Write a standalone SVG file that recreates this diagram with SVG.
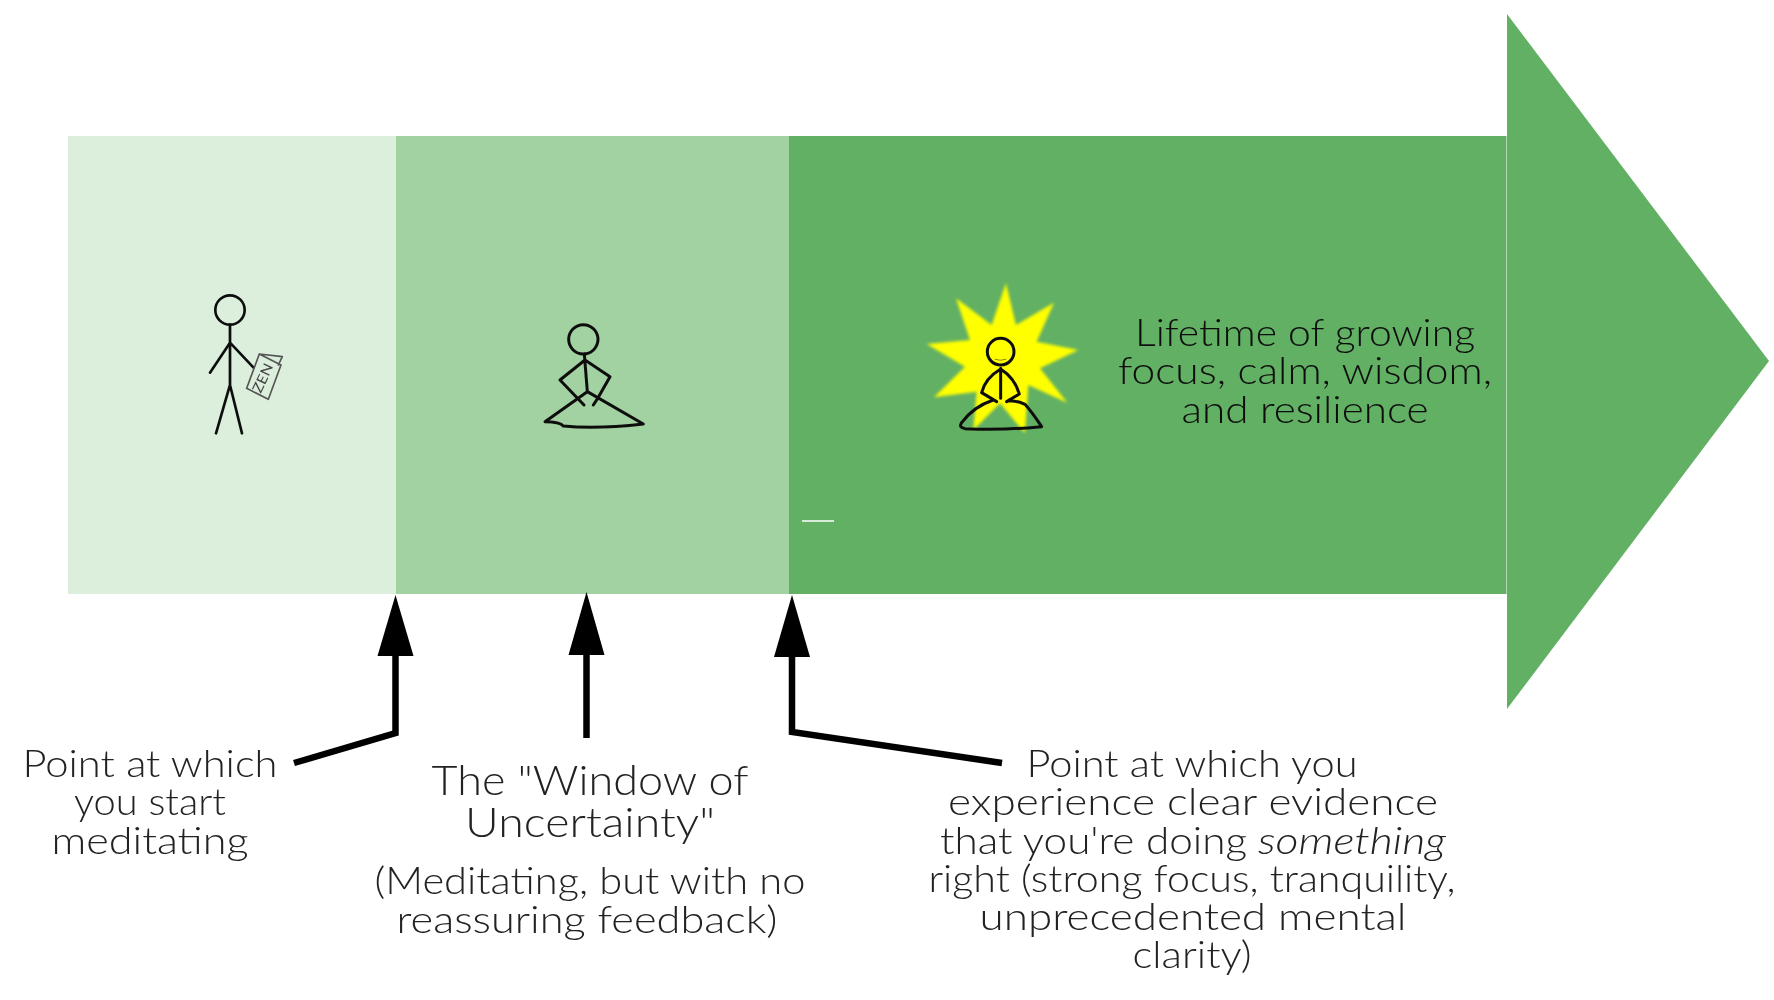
<svg xmlns="http://www.w3.org/2000/svg" width="1774" height="1000" viewBox="0 0 1774 1000">
<style>
text{font-family:"Lato","Liberation Sans",sans-serif;font-weight:300;fill:#222;text-anchor:middle}
.s{font-size:37px}
.b{font-size:42px}
.l{text-anchor:start}
.fig{fill:none;stroke:#111;stroke-linecap:round;stroke-linejoin:round}
.conn{fill:none;stroke:#000;stroke-width:6.5;stroke-linejoin:miter}
</style>
<defs><filter id="soft" x="-10%" y="-10%" width="120%" height="120%"><feGaussianBlur stdDeviation="5"/></filter>
<filter id="edge" x="-5%" y="-5%" width="110%" height="110%"><feGaussianBlur stdDeviation="1.8"/></filter>
<filter id="txt" x="-2%" y="-2%" width="104%" height="104%"><feGaussianBlur stdDeviation="0.45"/></filter></defs>
<rect width="1774" height="1000" fill="#fff"/>
<g id="band-start"><rect x="68" y="136" width="328" height="458" fill="#dcefdc"/></g>
<g id="band-window"><rect x="396" y="136" width="393" height="458" fill="#a3d2a2"/></g>
<g id="band-lifetime"><rect x="789" y="136" width="717.5" height="458" fill="#62b064"/><polygon points="1507,14 1769,361 1507,709" fill="#62b064"/><line x1="802" y1="521" x2="834" y2="521" stroke="#fff" stroke-width="1.5"/>
<g filter="url(#txt)"><text class="s" style="fill:#0c0c0c" x="1305" y="346" textLength="340" lengthAdjust="spacingAndGlyphs">Lifetime of growing</text>
<text class="s" style="fill:#0c0c0c" x="1305" y="384" textLength="374" lengthAdjust="spacingAndGlyphs">focus, calm, wisdom,</text>
<text class="s" style="fill:#0c0c0c" x="1305" y="423" textLength="247" lengthAdjust="spacingAndGlyphs">and resilience</text></g></g>
<g id="figure-walking" transform="translate(180 280) scale(.3333)" filter="url(#edge)">
<g class="fig" stroke-width="8"><circle cx="150" cy="90" r="44"/><path d="M150 134V315M150 188L90 278M150 188L220 262M150 315L108 460M150 315L186 460"/></g>
<g class="fig" stroke-width="5" style="stroke:#555"><path d="M238 222L200 325L265 358L303 255ZM238 222L307 230L295 255"/></g>
<text transform="translate(248 294) rotate(-65)" x="0" y="15" textLength="92" lengthAdjust="spacingAndGlyphs" style="font-size:42px;font-weight:400;fill:#444">ZEN</text></g>
<g id="figure-sitting" transform="translate(530 310) scale(.3333)" filter="url(#edge)"><g class="fig" stroke-width="9"><circle cx="160" cy="88" r="44"/><path d="M163 132L172 245M165 150L90 210L162 285M165 150L240 200L205 262L190 285M172 245L45 335Q90 335 100 348Q200 358 340 342L172 245"/></g></g>
<g id="figure-radiant" transform="translate(780 270) scale(.3333)">
<polygon filter="url(#soft)" points="678,40 708,165 822,98 770,215 895,240 780,295 862,398 745,345 735,490 660,400 580,480 590,365 462,382 555,290 440,222 570,210 528,85 635,165" fill="#ffff00"/>
<g class="fig" stroke-width="9" filter="url(#edge)"><circle cx="662" cy="245" r="40"/><path d="M645 268Q660 274 678 268" stroke-width="3" style="stroke:#8a8a20"/><path d="M662 295V385M662 297Q615 325 605 368L650 395M662 297Q705 325 718 372L680 395M640 390Q580 410 545 458Q535 472 555 476Q660 482 785 470Q755 425 735 403Q715 392 685 392"/></g></g>
<g id="connectors">
<polyline class="conn" points="395.5,652 395.5,733 294,763"/><polygon points="395.5,595 377.5,656 413.5,656" fill="#000"/>
<polyline class="conn" points="586.5,650 586.5,738"/><polygon points="586.5,592 568.5,655 604.5,655" fill="#000"/>
<polyline class="conn" points="792,652 792,732 1002,763"/><polygon points="792,595 774,657 810,657" fill="#000"/>
</g>
<g id="label-start" filter="url(#txt)"><text class="s" x="150" y="777" textLength="255" lengthAdjust="spacingAndGlyphs">Point at which</text><text class="s" x="150" y="815" textLength="152" lengthAdjust="spacingAndGlyphs">you start</text><text class="s" x="150" y="854" textLength="197" lengthAdjust="spacingAndGlyphs">meditating</text></g>
<g id="label-window" filter="url(#txt)"><text class="b" x="590" y="795" textLength="317" lengthAdjust="spacingAndGlyphs">The "Window of</text><text class="b" x="590" y="837" textLength="250" lengthAdjust="spacingAndGlyphs">Uncertainty"</text>
<text class="s" x="590" y="894" textLength="431" lengthAdjust="spacingAndGlyphs">(Meditating, but with no</text><text class="s" x="587" y="933" textLength="381" lengthAdjust="spacingAndGlyphs">reassuring feedback)</text></g>
<g id="label-evidence" filter="url(#txt)"><text class="s" x="1192" y="777" textLength="331" lengthAdjust="spacingAndGlyphs">Point at which you</text><text class="s" x="1193" y="815" textLength="490" lengthAdjust="spacingAndGlyphs">experience clear evidence</text>
<text class="s l" x="940" y="854" textLength="307" lengthAdjust="spacingAndGlyphs">that you're doing</text><text class="s l" x="1258" y="854" textLength="188" lengthAdjust="spacingAndGlyphs" font-style="italic">something</text>
<text class="s" x="1192" y="892" textLength="527" lengthAdjust="spacingAndGlyphs">right (strong focus, tranquility,</text><text class="s" x="1193" y="930" textLength="427" lengthAdjust="spacingAndGlyphs">unprecedented mental</text><text class="s" x="1192" y="968" textLength="119" lengthAdjust="spacingAndGlyphs">clarity)</text></g>
</svg>
